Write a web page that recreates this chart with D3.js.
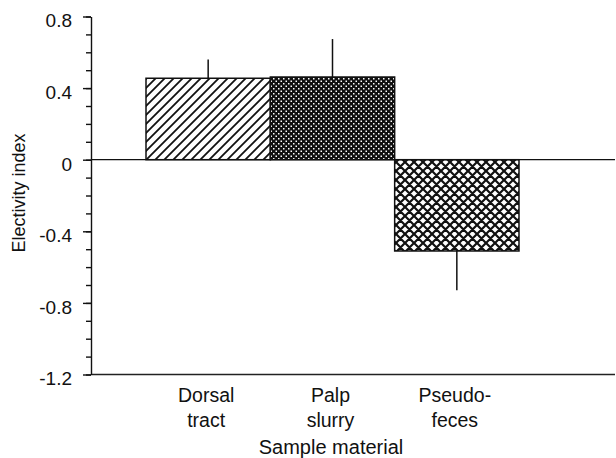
<!DOCTYPE html>
<html>
<head>
<meta charset="utf-8">
<script src="https://cdn.jsdelivr.net/npm/d3@7"></script>
<style>
  body { margin: 0; background: #fff; }
  text { font-family: "Liberation Sans", Arial, Helvetica, sans-serif; fill: #111; }
</style>
</head>
<body>
<div id="chart"></div>
<script>
// data
const categories = ["Dorsal tract", "Palp slurry", "Pseudofeces"];
const labelLines = [["Dorsal", "tract"], ["Palp", "slurry"], ["Pseudo-", "feces"]];
const values = [0.455, 0.462, -0.51];
const errors = [0.105, 0.212, 0.22];
const fills = ["hatch", "dots", "cross"];
const majorTicks = [-1.2, -0.8, -0.4, 0, 0.4, 0.8];
const minorTicks = d3.range(-12, 9).map(d => d / 10);

const width = 616, height = 458;

const svg = d3.select("#chart").append("svg")
    .attr("width", width)
    .attr("height", height);

const y = d3.scaleLinear().domain([-1.2, 0.8]).range([374.5, 16.5]);
const x = d3.scaleBand().domain(categories).range([146, 519]).padding(0);

// fill patterns
const defs = svg.append("defs");

const hatch = defs.append("pattern")
    .attr("id", "hatch").attr("patternUnits", "userSpaceOnUse")
    .attr("width", 9).attr("height", 9);
hatch.append("rect").attr("width", 9).attr("height", 9).attr("fill", "#fff");
hatch.append("path")
    .attr("d", "M0,9L9,0M-3,3L3,-3M6,12L12,6")
    .attr("stroke", "#111").attr("stroke-width", 1.8);

const dots = defs.append("pattern")
    .attr("id", "dots").attr("patternUnits", "userSpaceOnUse")
    .attr("width", 5).attr("height", 5);
dots.append("rect").attr("width", 5).attr("height", 5).attr("fill", "#111");
dots.append("rect").attr("x", 0.5).attr("y", 0.5).attr("width", 1.5).attr("height", 1.5).attr("fill", "#fff");
dots.append("rect").attr("x", 3).attr("y", 3).attr("width", 1.5).attr("height", 1.5).attr("fill", "#fff");

const cross = defs.append("pattern")
    .attr("id", "cross").attr("patternUnits", "userSpaceOnUse")
    .attr("width", 9).attr("height", 9);
cross.append("rect").attr("width", 9).attr("height", 9).attr("fill", "#fff");
cross.append("path")
    .attr("d", "M0,9L9,0M-3,3L3,-3M6,12L12,6M0,0L9,9M-3,6L3,12M6,-3L12,3")
    .attr("stroke", "#111").attr("stroke-width", 2.2);

// error bars (one-sided, away from zero)
svg.append("g").selectAll("line")
    .data(categories)
    .join("line")
    .attr("x1", d => x(d) + x.bandwidth() / 2)
    .attr("x2", d => x(d) + x.bandwidth() / 2)
    .attr("y1", (d, i) => y(values[i]))
    .attr("y2", (d, i) => y(values[i] + Math.sign(values[i]) * errors[i]))
    .attr("stroke", "#111").attr("stroke-width", 1.5);

// bars
svg.append("g").selectAll("rect")
    .data(categories)
    .join("rect")
    .attr("x", d => x(d))
    .attr("width", x.bandwidth())
    .attr("y", (d, i) => y(Math.max(0, values[i])))
    .attr("height", (d, i) => Math.abs(y(values[i]) - y(0)))
    .attr("fill", (d, i) => `url(#${fills[i]})`)
    .attr("stroke", "#111").attr("stroke-width", 1.5);

// zero line and bottom line
svg.append("line")
    .attr("x1", 91).attr("x2", 615)
    .attr("y1", y(0)).attr("y2", y(0))
    .attr("stroke", "#111").attr("stroke-width", 1.3);
svg.append("line")
    .attr("x1", 91).attr("x2", 615)
    .attr("y1", y(-1.2)).attr("y2", y(-1.2))
    .attr("stroke", "#222").attr("stroke-width", 1.5);

// y axis
const yMinor = svg.append("g")
    .attr("transform", "translate(91,0)")
    .call(d3.axisLeft(y).tickValues(minorTicks).tickSize(5).tickSizeOuter(0).tickFormat(""));
yMinor.select(".domain").remove();

const yAxis = svg.append("g")
    .attr("transform", "translate(91,0)")
    .call(d3.axisLeft(y).tickValues(majorTicks).tickSize(8).tickSizeOuter(0).tickPadding(11)
        .tickFormat(d => d === 0 ? "0" : d.toFixed(1)));
yAxis.selectAll("text")
    .attr("font-size", 19)
    .attr("dy", "0.55em");
svg.selectAll(".domain, .tick line").attr("stroke", "#111").attr("stroke-width", 1.4);

// category labels
const xl = svg.append("g").selectAll("text")
    .data(categories)
    .join("text")
    .attr("x", d => x(d) + x.bandwidth() / 2 - 2)
    .attr("y", 402)
    .attr("text-anchor", "middle")
    .attr("font-size", 19.5);
xl.selectAll("tspan")
    .data((d, i) => labelLines[i])
    .join("tspan")
    .attr("x", function () { return this.parentNode.getAttribute("x"); })
    .attr("dy", (d, i) => i === 0 ? 0 : 25)
    .text(d => d);

// axis titles
svg.append("text")
    .attr("x", 331).attr("y", 454)
    .attr("text-anchor", "middle")
    .attr("font-size", 20)
    .text("Sample material");

svg.append("text")
    .attr("transform", "translate(25,193) rotate(-90)")
    .attr("text-anchor", "middle")
    .attr("font-size", 18)
    .text("Electivity index");
</script>
</body>
</html>
